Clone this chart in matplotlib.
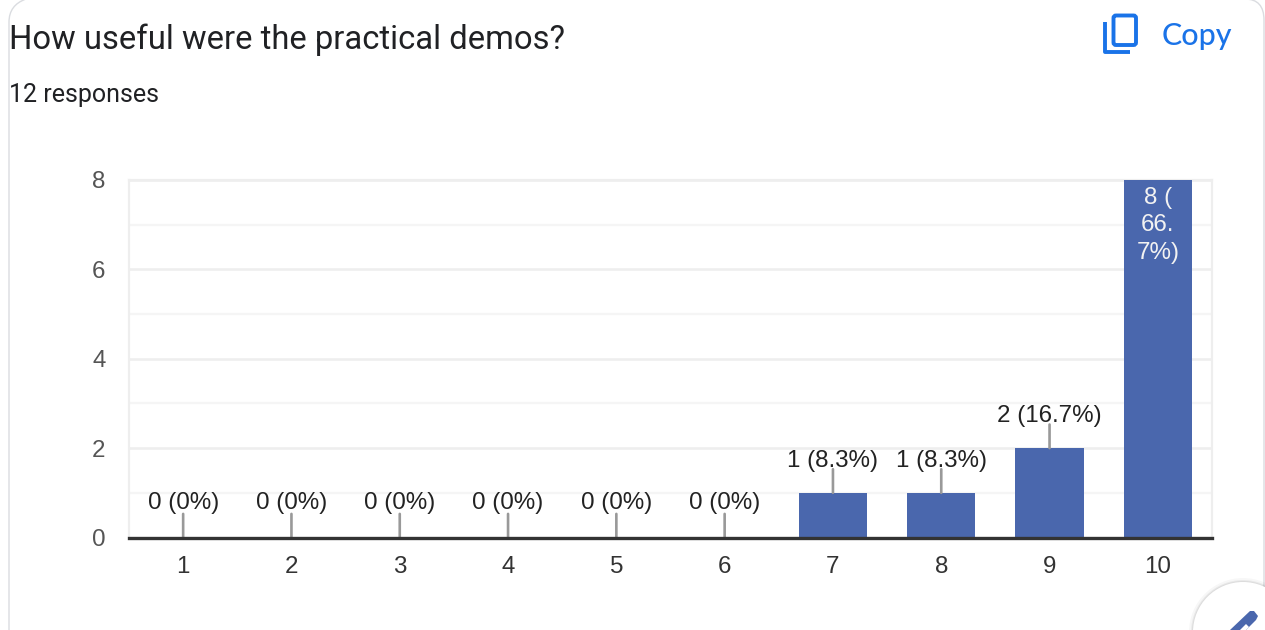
import matplotlib
matplotlib.use("Agg")
import matplotlib.pyplot as plt
from matplotlib.patches import FancyBboxPatch, Circle, Polygon, PathPatch
from matplotlib.path import Path

categories = ["1", "2", "3", "4", "5", "6", "7", "8", "9", "10"]
counts = [0, 0, 0, 0, 0, 0, 1, 1, 2, 8]
labels = ["0 (0%)"] * 6 + ["1 (8.3%)", "1 (8.3%)", "2 (16.7%)", "8 (\n66.\n7%)"]
major_ticks = [0, 2, 4, 6, 8]
minor_ticks = [1, 3, 5, 7]
title = "How useful were the practical demos?"
subtitle = "12 responses"
copy_label = "Copy"

W, H = 1265, 630
BAR = "#4a67ad"
BLUE = "#1a73e8"
FS = 17.4
fig = plt.figure(figsize=(W / 100, H / 100), dpi=100, facecolor="white")

# page overlay in pixel coordinates
bg = fig.add_axes([0, 0, 1, 1], zorder=0)
bg.set_xlim(0, W)
bg.set_ylim(H, 0)
bg.axis("off")
card = Path([(9, 640), (9, 22), (9, 5), (26, -1), (1245, -1), (1264, -1), (1264, 20), (1264, 640)],
            [Path.MOVETO, Path.LINETO, Path.CURVE3, Path.CURVE3, Path.LINETO, Path.CURVE3, Path.CURVE3, Path.LINETO])
bg.add_patch(PathPatch(card, fc="none", ec="#dadce0", lw=1.0))
bg.text(9, 40, title, fontsize=23.6, family="Roboto", color="#202124", va="center", ha="left")
bg.text(9, 95, subtitle, fontsize=18.0, family="Roboto", color="#202124", va="center", ha="left")
bg.text(1162, 36, copy_label, fontsize=21.9, family="Lato", weight="medium", color=BLUE, va="center", ha="left")

ax = fig.add_axes([129 / W, (H - 537.5) / H, (1212 - 129) / W, (537.5 - 180) / H], zorder=1)
ax.patch.set_alpha(0)
x = list(range(len(categories)))
ax.bar(x, counts, width=0.63, color=BAR, zorder=3)
ax.set_xlim(-0.5, 9.5)
ax.set_ylim(0, 8)
ax.set_xticks(x, categories)
ax.set_yticks(major_ticks)
ax.set_yticks(minor_ticks, minor=True)
ax.grid(True, axis="y", which="major", color="#eeeeee", lw=1.9, zorder=1)
ax.grid(True, axis="y", which="minor", color="#f5f5f5", lw=1.6, zorder=1)
ax.tick_params(axis="both", which="both", length=0)
ax.tick_params(axis="y", labelsize=FS, labelcolor="#555555", pad=17)
ax.tick_params(axis="x", labelsize=FS, labelcolor="#333333", pad=13.5)
for t in ax.get_xticklabels() + ax.get_yticklabels():
    t.set_family("Liberation Sans")
for s in ("left", "right", "top"):
    ax.spines[s].set_color("#eeeeee")
    ax.spines[s].set_linewidth(1.6)
ax.spines["bottom"].set_color("#333333")
ax.spines["bottom"].set_linewidth(2.4)
ax.spines["bottom"].set_zorder(5)

for xi, c, lab in zip(x, counts, labels):
    if c == max(counts):
        ax.annotate(lab, (xi, c), xytext=(0, -5), textcoords="offset points", ha="center", va="top",
                    fontsize=FS, family="Liberation Sans", color="#f2f2f2", linespacing=1.32, zorder=6)
    else:
        ax.annotate("", (xi, c), xytext=(0, 17), textcoords="offset points",
                    arrowprops=dict(arrowstyle="-", color="#999999", lw=1.9, shrinkA=0, shrinkB=0), zorder=4)
        ax.annotate(lab, (xi, c), xytext=(0, 17 if c == 0 else 15), textcoords="offset points", ha="center", va="bottom",
                    fontsize=FS, family="Liberation Sans", color="#222222", zorder=6, clip_on=False)

# top overlay: copy icon and floating edit button
ov = fig.add_axes([0, 0, 1, 1], zorder=2)
ov.set_xlim(0, W)
ov.set_ylim(H, 0)
ov.axis("off")
ov.patch.set_alpha(0)
ov.add_patch(FancyBboxPatch((1113.5, 15.5), 22.5, 29.5, boxstyle="round,pad=0,rounding_size=2.5", fc="none", ec=BLUE, lw=2.8))
ov.add_patch(PathPatch(Path([(1105, 22), (1105, 51.5), (1130, 51.5)]), fc="none", ec=BLUE, lw=2.8, joinstyle="round"))
for r, a in ((54, 0.03), (52, 0.05), (51, 0.06)):
    ov.add_patch(Circle((1243, 632), r, fc="#000000", ec="none", alpha=a))
ov.add_patch(Circle((1243, 632), 50, fc="white", ec="none"))
ov.add_patch(Polygon([(1230, 630), (1250, 611), (1254, 611), (1258, 616), (1256, 620), (1246, 630)], fc=BAR, ec="none"))
ov.add_patch(Polygon([(1240, 630), (1246, 624), (1249, 627), (1246, 630)], fc="white", ec="none"))

fig.savefig("out.png", dpi=100, facecolor="white")
